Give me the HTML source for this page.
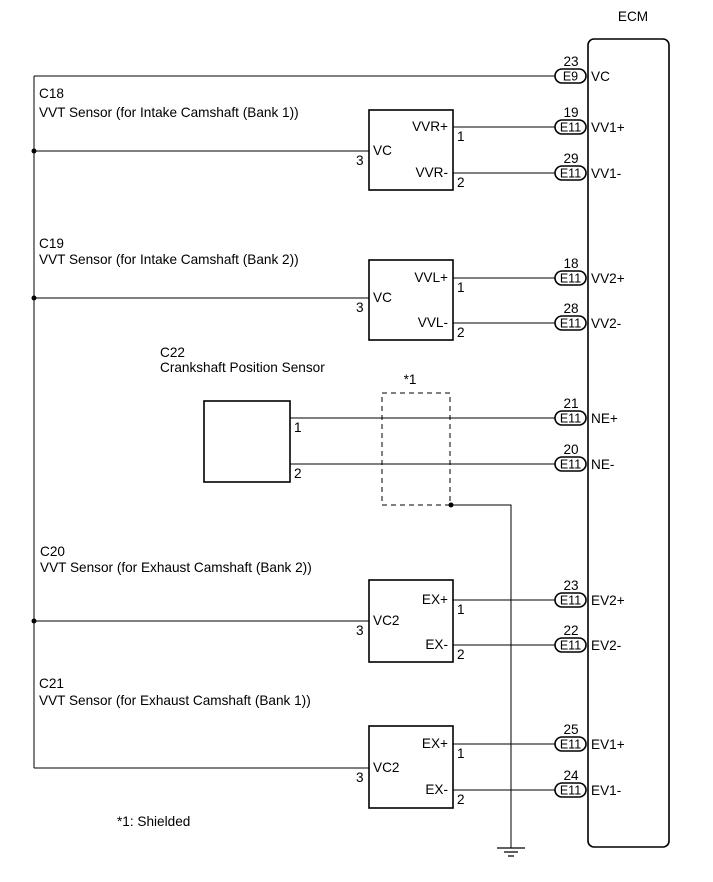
<!DOCTYPE html>
<html><head><meta charset="utf-8"><style>
html,body{margin:0;padding:0;background:#fff;}
svg{display:block;}
text{font-family:"Liberation Sans",Arial,sans-serif;font-size:13.6px;fill:#000;}
text.p{font-size:12.5px;}
</style></head><body>
<svg width="713" height="882" viewBox="0 0 713 882" xmlns="http://www.w3.org/2000/svg">
<g fill="none" stroke="#000">
<rect x="588" y="39" width="81" height="808" rx="6" stroke-width="1.6"/>
<path d="M34 76 V768" stroke-width="1"/>
<path d="M34 76 H555" stroke-width="1"/>
<path d="M34 151 H369 M34 298 H369 M34 621 H369 M34 768 H369" stroke-width="1"/>
<rect x="369" y="110" width="84" height="80" stroke-width="1.6"/>
<rect x="369" y="260" width="84" height="80" stroke-width="1.6"/>
<rect x="369" y="580" width="84" height="82" stroke-width="1.6"/>
<rect x="369" y="726" width="84" height="82" stroke-width="1.6"/>
<rect x="204" y="401" width="86" height="81" stroke-width="1.6"/>
<path d="M453 127 H555 M453 173 H555 M453 278 H555 M453 323 H555 M290 418 H555 M290 464 H555 M453 600 H555 M453 645 H555 M453 744 H555 M453 790 H555" stroke-width="1"/>
<rect x="382" y="393" width="68" height="112" stroke-dasharray="5,4" stroke-width="1"/>
<path d="M451 505 H511 V848" stroke-width="1"/>
<path d="M497 848 H525 M504 852 H518 M508 856 H514" stroke-width="1.2"/>
<g stroke-width="1.6">
<rect x="555" y="69" width="31" height="14" rx="7"/>
<rect x="555" y="120" width="31" height="14" rx="7"/>
<rect x="555" y="166" width="31" height="14" rx="7"/>
<rect x="555" y="271" width="31" height="14" rx="7"/>
<rect x="555" y="316" width="31" height="14" rx="7"/>
<rect x="555" y="411" width="31" height="14" rx="7"/>
<rect x="555" y="457" width="31" height="14" rx="7"/>
<rect x="555" y="593" width="31" height="14" rx="7"/>
<rect x="555" y="638" width="31" height="14" rx="7"/>
<rect x="555" y="737" width="31" height="14" rx="7"/>
<rect x="555" y="783" width="31" height="14" rx="7"/>
</g>
</g>
<g fill="#000">
<circle cx="34" cy="151" r="2.5"/><circle cx="34" cy="298" r="2.5"/><circle cx="34" cy="621" r="2.5"/><circle cx="451" cy="505" r="2.5"/>
</g>
<text x="633" y="21" text-anchor="middle">ECM</text>
<g text-anchor="middle">
<text class="p" x="570.5" y="80.5">E9</text>
<text class="p" x="570.5" y="131.5">E11</text><text class="p" x="570.5" y="177.5">E11</text>
<text class="p" x="570.5" y="282.5">E11</text><text class="p" x="570.5" y="327.5">E11</text>
<text class="p" x="570.5" y="422.5">E11</text><text class="p" x="570.5" y="468.5">E11</text>
<text class="p" x="570.5" y="604.5">E11</text><text class="p" x="570.5" y="649.5">E11</text>
<text class="p" x="570.5" y="748.5">E11</text><text class="p" x="570.5" y="794.5">E11</text>
<text x="571" y="66">23</text>
<text x="571" y="117">19</text><text x="571" y="163">29</text>
<text x="571" y="268">18</text><text x="571" y="313">28</text>
<text x="571" y="408">21</text><text x="571" y="454">20</text>
<text x="571" y="590">23</text><text x="571" y="635">22</text>
<text x="571" y="734">25</text><text x="571" y="780">24</text>
</g>
<g>
<text x="591" y="81">VC</text>
<text x="591" y="132">VV1+</text><text x="591" y="178">VV1-</text>
<text x="591" y="283">VV2+</text><text x="591" y="328">VV2-</text>
<text x="591" y="423">NE+</text><text x="591" y="469">NE-</text>
<text x="591" y="605">EV2+</text><text x="591" y="650">EV2-</text>
<text x="591" y="749">EV1+</text><text x="591" y="795">EV1-</text>
</g>
<g text-anchor="end">
<text x="448" y="131">VVR+</text><text x="448" y="177">VVR-</text>
<text x="448" y="282">VVL+</text><text x="448" y="327">VVL-</text>
<text x="448" y="604">EX+</text><text x="448" y="649">EX-</text>
<text x="448" y="748">EX+</text><text x="448" y="794">EX-</text>
</g>
<text x="373" y="155">VC</text><text x="373" y="302">VC</text>
<text x="373" y="625">VC2</text><text x="373" y="772">VC2</text>
<text x="356" y="165">3</text><text x="356" y="312">3</text><text x="356" y="635">3</text><text x="356" y="782">3</text>
<text x="457" y="141">1</text><text x="457" y="187">2</text>
<text x="457" y="292">1</text><text x="457" y="337">2</text>
<text x="294" y="432">1</text><text x="294" y="478">2</text>
<text x="457" y="614">1</text><text x="457" y="659">2</text>
<text x="457" y="758">1</text><text x="457" y="804">2</text>
<text x="39" y="98">C18</text><text x="39" y="117">VVT Sensor (for Intake Camshaft (Bank 1))</text>
<text x="39" y="248">C19</text><text x="39" y="264">VVT Sensor (for Intake Camshaft (Bank 2))</text>
<text x="160" y="357">C22</text><text x="160" y="372">Crankshaft Position Sensor</text>
<text x="40" y="556">C20</text><text x="40" y="572">VVT Sensor (for Exhaust Camshaft (Bank 2))</text>
<text x="39" y="688">C21</text><text x="39" y="705">VVT Sensor (for Exhaust Camshaft (Bank 1))</text>
<text x="410" y="384" text-anchor="middle">*1</text>
<text x="117" y="826">*1: Shielded</text>
</svg>
</body></html>
